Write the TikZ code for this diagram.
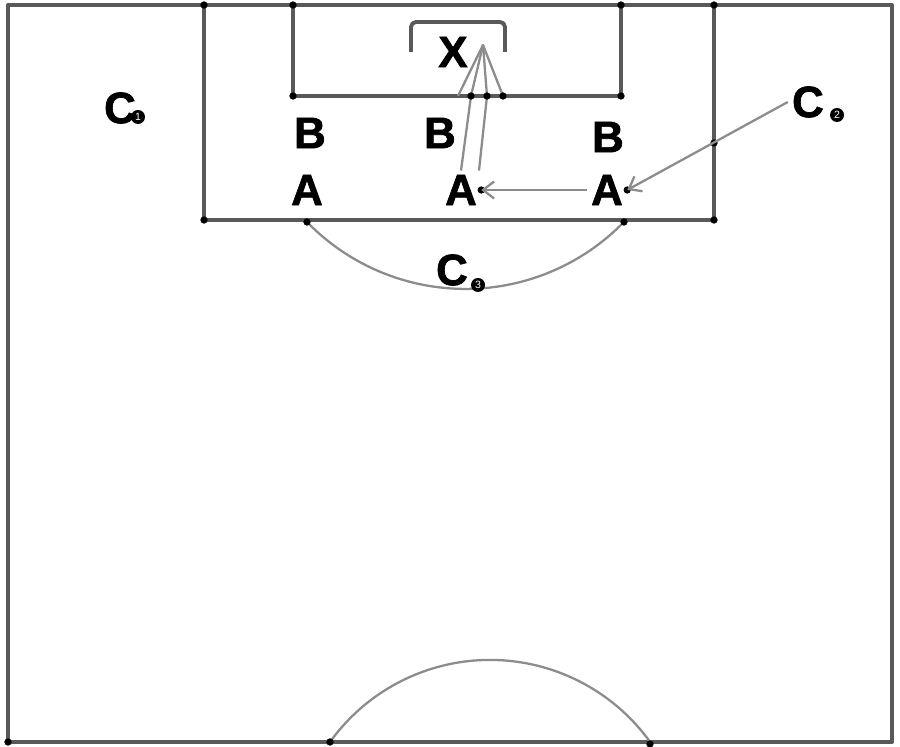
\documentclass[tikz,border=0pt]{standalone}
\usepackage{fontspec}
\setmainfont[BoldFeatures={FakeBold=1.5}]{Liberation Sans}
\usetikzlibrary{arrows.meta}
\tikzstyle{pitch}=[draw=black!65,line width=2.2pt,line join=round]
\tikzstyle{circleline}=[draw=black!45,line width=1.3pt]
\tikzstyle{blackdot}=[circle,draw=black,fill=black,
                      inner sep=0pt,minimum size=1.3mm]
\tikzstyle{player}=[inner sep=0.8mm,
                    font=\fontsize{25}{25}\selectfont\bfseries]
\tikzstyle{tag}=[circle,fill=black,text=white,inner sep=0pt,
                 minimum size=2.8mm,font=\fontsize{6}{6}\selectfont]
\tikzstyle{pass}=[draw=black!45,line width=1.3pt,
                  -{Straight Barb[length=2.2mm,width=3.4mm]}]
\tikzstyle{shot}=[draw=black!45,line width=1.3pt,line join=round]

\begin{document}
\begin{tikzpicture}[x=0.2mm,y=0.2mm]
    \useasboundingbox (0,0) rectangle (900,747);
    \draw[pitch] (8,5) rectangle (892,742);
    \draw[pitch] (204,742) -- (204,527) -- (714,527) -- (714,742);
    \draw[pitch] (293,742) -- (293,651) -- (621,651) -- (621,742);
    \draw[pitch,rounded corners=1mm] (411,695) -- (411,725) -- (505,725) -- (505,695);
    \draw[circleline] (307,525) arc[start angle=224.2,end angle=315.8,radius=221];
    \draw[circleline] (330,5) arc[start angle=144.3,end angle=35.7,radius=197.1];
    \foreach \p [count=\i] in {(204,742),(293,742),(621,742),(714,742),
        (293,651),(621,651),(204,527),(714,527),(307,525),(624,525),
        (330,5),(650,3),(8,5)}
      \node (j\i) at \p [blackdot]{};

    \node (c1) at (120,639) [player]{C};
    \node (n1) at (138,630) [tag]{1};
    \node (c2) at (808,645) [player]{C};
    \node (n2) at (837,632) [tag]{2};
    \node (c3) at (452,477) [player]{C};
    \node (n3) at (478,462) [tag]{3};
    \node (b1) at (310,614) [player]{B};
    \node (b2) at (440,614) [player]{B};
    \node (b3) at (608,610) [player]{B};
    \node (a1) at (307,557) [player]{A};
    \node (a2) at (461,557) [player]{A};
    \node (a3) at (607,557) [player]{A};
    \node (x)  at (453,695) [player]{X};

    \node (k)  at (714,604) [blackdot]{};
    \node (t3) at (a3.east) [blackdot]{};
    \node (t2) at (a2.east) [blackdot]{};
    \draw[pass] (c2.west) -- (t3.center);
    \draw[pass] (a3.west) -- (t2.center);

    \coordinate (s1) at (471,651);
    \coordinate (s2) at (487,651);
    \coordinate (h1) at (458,651);
    \coordinate (h2) at (503,651);
    \coordinate (hx) at (483,702);
    \draw[shot] (a2.north) -- (s1) -- (hx);
    \draw[shot] ([xshift=3.6mm]a2.north) -- (s2) -- (hx);
    \draw[shot] (h1) -- (hx) -- (h2);
    \node (e1) at (s1) [blackdot]{};
    \node (e2) at (s2) [blackdot]{};
    \node (e3) at (h2) [blackdot]{};
\end{tikzpicture}
\end{document}
